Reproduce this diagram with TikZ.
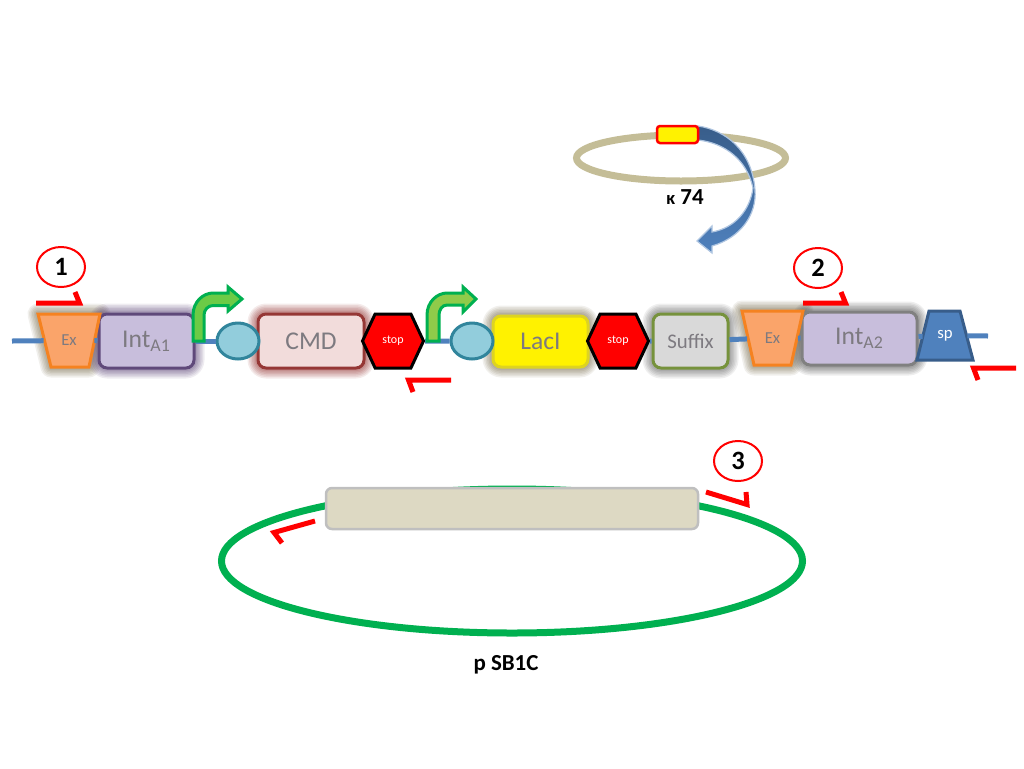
\documentclass[tikz,border=0pt]{standalone}
\usepackage{fontspec}
\setmainfont{Carlito}
\usetikzlibrary{shapes.geometric,shapes.symbols}
\definecolor{bb}{HTML}{4F81BD}
\definecolor{txt}{HTML}{7D7A80}
\definecolor{lil}{HTML}{C8BEDC}
\definecolor{gred}{HTML}{00B050}
\definecolor{prim}{HTML}{FF0000}
\definecolor{khaki}{HTML}{C4BD97}
\definecolor{sand}{HTML}{DDD9C3}
\definecolor{rbsfill}{HTML}{92CDDC}
\definecolor{rbsline}{HTML}{31859C}
\definecolor{orfill}{HTML}{FAA46A}
\definecolor{orline}{HTML}{F58220}
\definecolor{orglow}{HTML}{7A6E50}
\definecolor{purpline}{HTML}{5F497A}
\definecolor{cmdfill}{HTML}{F2DCDB}
\definecolor{cmdline}{HTML}{953735}
\definecolor{sufline}{HTML}{76923C}
\definecolor{darkblue}{HTML}{385D8A}
\definecolor{greenA}{HTML}{6CCB46}
\definecolor{greenB}{HTML}{8FCB4A}
\newlength{\pxu}
\setlength{\pxu}{0.5669pt}
\tikzset{
  x=0.5669pt,y=-0.5669pt,
  glow/.style={
    preaction={draw=#1,line join=round,draw opacity=.10,line width=21\pxu},
    preaction={draw=#1,line join=round,draw opacity=.11,line width=18\pxu},
    preaction={draw=#1,line join=round,draw opacity=.12,line width=15\pxu},
    preaction={draw=#1,line join=round,draw opacity=.13,line width=12\pxu},
    preaction={draw=#1,line join=round,draw opacity=.14,line width=9\pxu},
    preaction={draw=#1,line join=round,draw opacity=.15,line width=6\pxu}},
  partbox/.style={rectangle,draw,rounded corners=8\pxu,line width=3\pxu,inner sep=0pt,align=center,text=txt},
  traptext/.style={rectangle,inner sep=0pt,minimum height=50\pxu},
  trapline/.style={line width=3\pxu,line join=miter},
  hexa/.style={signal,signal to=east and west,signal pointer angle=130,draw=black,fill=prim,line width=3\pxu,
    minimum width=61\pxu,minimum height=54\pxu,inner sep=0pt,text=white,font=\fontsize{6.8pt}{8pt}\selectfont},
  rbs/.style={ellipse,draw=rbsline,fill=rbsfill,line width=3\pxu,minimum width=42\pxu,minimum height=36\pxu,inner sep=0pt},
  numring/.style={ellipse,draw=prim,line width=2\pxu,minimum width=48\pxu,minimum height=40\pxu,inner sep=0pt,font=\bfseries\fontsize{15pt}{17pt}\selectfont},
  wire/.style={draw=bb,line width=5\pxu},
  primer/.style={draw=prim,line width=5\pxu,miter limit=10},
  bent/.style={draw=gred,line width=3\pxu,line join=miter},
  big/.style={font=\fontsize{14.5pt}{16pt}\selectfont},
  small/.style={font=\fontsize{9.5pt}{11pt}\selectfont},
  lab/.style={font=\bfseries\fontsize{13pt}{15pt}\selectfont,inner sep=0pt},
}
\begin{document}
\begin{tikzpicture}
\useasboundingbox (0,0) rectangle (1024,768);

% top plasmid
\node[ellipse,draw=khaki,line width=7\pxu,minimum width=209\pxu,minimum height=46\pxu,inner sep=0pt] (kring) at (681,158) {};
\path[top color=darkblue,bottom color=bb,draw=bb!45!white,line width=1.2\pxu]
  (698,126) .. controls (725,130) and (752,150) .. (755,190)
  .. controls (757,215) and (740,238) .. (712,246)
  -- (712,253) -- (697,241) -- (712,226) -- (712,232)
  .. controls (735,228) and (750,210) .. (753,188)
  .. controls (747,160) and (725,143) .. (698,140) -- cycle;
\node[rectangle,draw=prim,fill=yellow,line width=2.5\pxu,rounded corners=3\pxu,minimum width=41\pxu,minimum height=17\pxu,inner sep=0pt] (insert) at (677.5,134.5) {};
\node[lab] (klabel) at (685,197) {{\fontsize{10.5pt}{12pt}\selectfont κ} 74};

% glows of the trapeziums, then the boxes, then the trapezium bodies
\path[glow=orglow] (38,314) -- (100,314) -- (89,367) -- (51,367) -- cycle;
\path[glow=orglow] (742,311) -- (803,311) -- (791,365) -- (754,365) -- cycle;

\node[partbox,draw=purpline,fill=lil,glow=purpline,minimum width=95\pxu,minimum height=54\pxu,big] (int1) at (146.5,341) {Int\textsubscript{A1}};
\node[partbox,draw=cmdline,fill=cmdfill,glow=cmdline,minimum width=106\pxu,minimum height=54\pxu,big] (cmd) at (311,341) {CMD};
\node[partbox,draw=yellow!85!black,fill=yellow,glow=orglow,minimum width=95\pxu,minimum height=51\pxu,big] (laci) at (540.5,341.5) {LacI};
\node[partbox,draw=sufline,fill=black!15,glow=black!60,minimum width=75\pxu,minimum height=54\pxu,font=\fontsize{11.8pt}{13pt}\selectfont] (suffix) at (690.5,341) {Suffix};
\node[partbox,draw=black!50,fill=lil,glow=black!65,minimum width=115\pxu,minimum height=53\pxu,big] (int2) at (859.5,338.5) {Int\textsubscript{A2}};

\draw[trapline,draw=orline,fill=orfill] (38,314) -- (100,314) -- (89,367) -- (51,367) -- cycle;
\draw[trapline,draw=orline,fill=orfill] (742,311) -- (803,311) -- (791,365) -- (754,365) -- cycle;
\draw[trapline,draw=darkblue,fill=bb] (929,311) -- (960,311) -- (973,360) -- (917,360) -- cycle;
\node[traptext,minimum width=50\pxu,text=txt,small] (ex1) at (69,340.5) {Ex};
\node[traptext,minimum width=50\pxu,text=txt,small] (ex2) at (772.5,338) {Ex};
\node[traptext,minimum width=44\pxu,text=white,small] (sp) at (945,335.5) {sp};

\node[hexa] (stop1) at (393,341) {stop};
\node[hexa] (stop2) at (618,341) {stop};
\node[rbs] (rbs1) at (238,341) {};
\node[rbs] (rbs2) at (472,341) {};

% backbone
\coordinate (bbL) at (12,341);
\coordinate (bbR) at (988,336);
\draw[wire] (bbL) -- (ex1);
\draw[wire] (ex1) -- (int1);
\draw[wire] (int1) -- (rbs1);
\draw[wire] (stop1) -- (rbs2);
\draw[wire] (stop2) -- (suffix);
\draw[wire] (suffix) -- (ex2);
\draw[wire] (ex2) -- (int2);
\draw[wire] (int2) -- (sp);
\draw[wire] (sp) -- (bbR);

% promoters
\path[bent,fill=greenA]
  (193,341) -- (193,315) .. controls (193,302) and (203,293) .. (213,293)
  -- (228,293) -- (228,287) -- (242,299) -- (228,311) -- (228,305.5) -- (213,305.5)
  .. controls (208,305.5) and (204,310) .. (204,315) -- (204,341) -- cycle;
\path[bent,fill=greenB]
  (427,341) -- (427,315) .. controls (427,302) and (437,293) .. (447,293)
  -- (463,293) -- (463,287) -- (476,299) -- (463,312) -- (463,305) -- (447,305)
  .. controls (442,305) and (439,310) .. (439,315) -- (439,341) -- cycle;

% bottom plasmid
\node[ellipse,draw=gred,line width=7\pxu,minimum width=581\pxu,minimum height=144\pxu,inner sep=0pt] (pring) at (512,561) {};
\node[rectangle,draw=black!25,fill=sand,line width=2.5\pxu,rounded corners=6\pxu,minimum width=372\pxu,minimum height=41\pxu,inner sep=0pt] (pins) at (512,508.5) {};
\node[lab] (plabel) at (506,665) {p SB1C};

% number rings
\node[numring] (n1) at (61,267) {1};
\node[numring] (n2) at (818,268) {2};
\node[numring] (n3) at (738,461) {3};

% primers
\draw[primer] (36,303) -- (79.5,303) -- (75,292);
\draw[primer] (803,303) -- (845.5,303) -- (841,292);
\draw[primer] (451,380) -- (408.5,380) -- (413,392);
\draw[primer] (1016,368) -- (973.5,368) -- (978,380);
\draw[primer] (706,492) -- (747,504.5) -- (746,492);
\draw[primer] (315,521) -- (274,532.5) -- (282,543);
\end{tikzpicture}
\end{document}
